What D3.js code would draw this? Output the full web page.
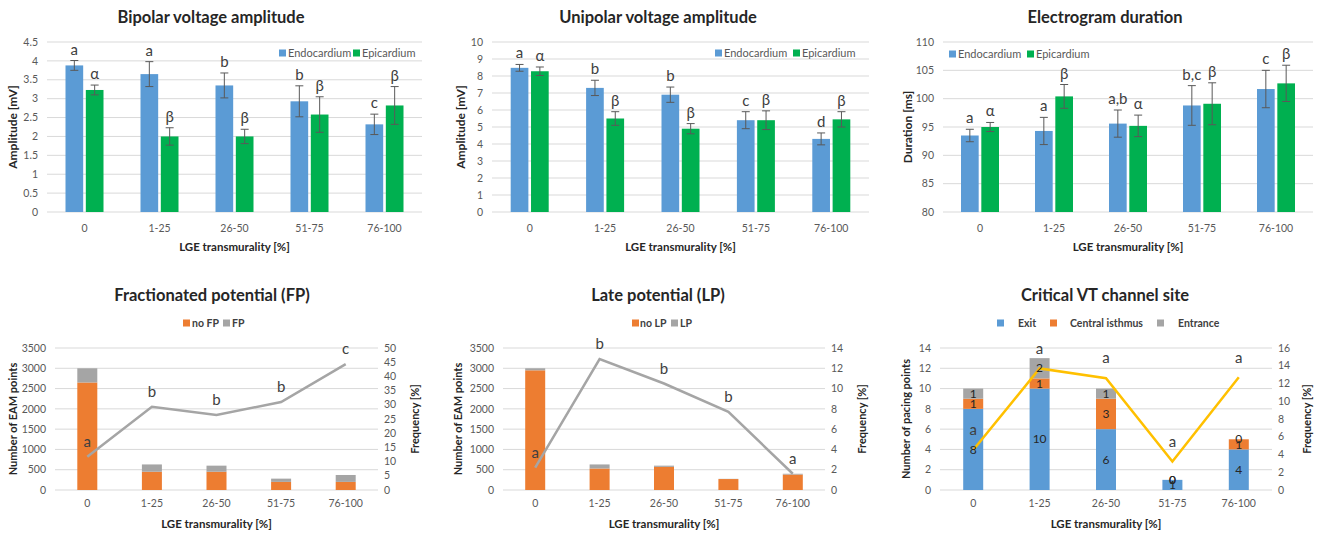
<!DOCTYPE html>
<html><head><meta charset="utf-8">
<script src="https://cdn.jsdelivr.net/npm/d3@7/dist/d3.min.js"></script>
<style>
body{margin:0;background:#fff;}
svg{display:block;font-family:Lato,"Open Sans",sans-serif;}
</style></head>
<body><svg id="c" width="1322" height="534"></svg>
<script>
// ---------- data ----------
const categories = ["0","1-25","26-50","51-75","76-100"];
const seriesNames = ["Endocardium","Epicardium"];

const bipolarEndo    = [3.88, 3.65, 3.35, 2.93, 2.32];
const bipolarEndoErr = [0.13, 0.33, 0.33, 0.41, 0.27];
const bipolarEpi     = [3.23, 2.00, 2.00, 2.58, 2.82];
const bipolarEpiErr  = [0.13, 0.23, 0.19, 0.47, 0.50];
const bipolarEndoLetters = ["a","a","b","b","c"];
const bipolarEpiLetters  = ["α","β","β","β","β"];
const bipolarTicks = [0,0.5,1,1.5,2,2.5,3,3.5,4,4.5];

const unipolarEndo    = [8.48, 7.30, 6.90, 5.40, 4.30];
const unipolarEndoErr = [0.20, 0.45, 0.45, 0.50, 0.35];
const unipolarEpi     = [8.28, 5.50, 4.90, 5.40, 5.45];
const unipolarEpiErr  = [0.25, 0.40, 0.30, 0.55, 0.45];
const unipolarEndoLetters = ["a","b","b","c","d"];
const unipolarEpiLetters  = ["α","β","β","β","β"];
const unipolarTicks = [0,1,2,3,4,5,6,7,8,9,10];

const durationEndo    = [93.5, 94.3, 95.6, 98.8, 101.7];
const durationEndoErr = [1.1, 2.4, 2.4, 3.5, 3.3];
const durationEpi     = [95.0, 100.4, 95.2, 99.1, 102.7];
const durationEpiErr  = [0.8, 2.1, 1.9, 3.7, 3.2];
const durationEndoLetters = ["a","a","a,b","b,c","c"];
const durationEpiLetters  = ["α","β","α","β","β"];
const durationTicks = [80,85,90,95,100,105,110];

const noFP = [2650, 450, 450, 200, 200];
const FP   = [350, 180, 150, 80, 170];
const fpFreq = [11.7, 29.3, 26.4, 31.0, 44.3];
const fpLetters = ["a","b","b","b","c"];
const fpLeftTicks = [0,500,1000,1500,2000,2500,3000,3500];
const fpRightTicks = [0,5,10,15,20,25,30,35,40,45,50];

const noLP = [2950, 530, 570, 270, 380];
const LP   = [50, 100, 30, 5, 20];
const lpFreq = [2.2, 12.9, 10.5, 7.7, 1.6];
const lpLetters = ["a","b","b","b","a"];
const lpLeftTicks = [0,500,1000,1500,2000,2500,3000,3500];
const lpRightTicks = [0,2,4,6,8,10,12,14];

const vtExit = [8, 10, 6, 1, 4];
const vtCentral = [1, 1, 3, 0, 1];
const vtEntrance = [1, 2, 1, 0, 0];
const vtFreq = [4.5, 13.7, 12.6, 3.2, 12.7];
const vtLetters = ["a","a","a","a","a"];
const vtLeftTicks = [0,2,4,6,8,10,12,14];
const vtRightTicks = [0,2,4,6,8,10,12,14,16];

// ---------- styles ----------
const BLUE="#5B9BD5", GREEN="#00B050", ORANGE="#ED7D31", GRAY="#A5A5A5", YELLOW="#FFC000";
const GRID="#D9D9D9", TICK="#595959", TXT="#262626";
const svg = d3.select("#c");

function gridLines(g, y, ticks, x0, x1){
  g.selectAll(null).data(ticks).enter().append("line")
    .attr("x1",x0).attr("x2",x1).attr("y1",d=>y(d)).attr("y2",d=>y(d))
    .attr("stroke",GRID).attr("stroke-width",1);
}
function tickLabels(g, y, ticks, x, anchor){
  g.selectAll(null).data(ticks).enter().append("text")
    .attr("x",x).attr("y",d=>y(d)).attr("dy","0.35em")
    .attr("text-anchor",anchor).attr("font-size",10.5).attr("fill",TICK)
    .text(d=>d);
}
function rotTitle(g, text, x, y, size){
  g.append("text").attr("transform",`translate(${x},${y}) rotate(-90)`)
    .attr("text-anchor","middle").attr("dy","0.35em")
    .attr("font-size",size).attr("font-weight","bold").attr("fill",TXT).text(text);
}

// ---------- top grouped bar panels ----------
function topPanel(c){
  const g = svg.append("g");
  const x = d3.scaleBand().domain(categories).range([c.left,c.right]);
  const y = d3.scaleLinear().domain(c.domain).range([212,42]);
  const xs = d3.scaleBand().domain(seriesNames).range([-19,19]).paddingInner(0.13);
  gridLines(g,y,c.ticks,c.left,c.right);
  tickLabels(g,y,c.ticks,c.left-9,"end");
  const series = [
    {name:"Endocardium", v:c.endo, e:c.endoErr, l:c.endoLet, col:BLUE},
    {name:"Epicardium", v:c.epi, e:c.epiErr, l:c.epiLet, col:GREEN}];
  series.forEach(s=>{
    const cx = (i)=>x(categories[i])+x.bandwidth()/2+xs(s.name);
    const idx = d3.range(categories.length);
    g.selectAll(null).data(idx).enter().append("rect")
      .attr("x",i=>cx(i)).attr("width",xs.bandwidth())
      .attr("y",i=>y(s.v[i])).attr("height",i=>y(c.domain[0])-y(s.v[i]))
      .attr("fill",s.col);
    const mid = i=>cx(i)+xs.bandwidth()/2;
    g.selectAll(null).data(idx).enter().append("line")
      .attr("x1",mid).attr("x2",mid).attr("y1",i=>y(s.v[i]-s.e[i])).attr("y2",i=>y(s.v[i]+s.e[i]))
      .attr("stroke","#595959").attr("stroke-width",1);
    [-1,1].forEach(sg=>{
      g.selectAll(null).data(idx).enter().append("line")
        .attr("x1",i=>mid(i)-4).attr("x2",i=>mid(i)+4)
        .attr("y1",i=>y(s.v[i]+sg*s.e[i])).attr("y2",i=>y(s.v[i]+sg*s.e[i]))
        .attr("stroke","#595959").attr("stroke-width",1);
    });
    g.selectAll(null).data(idx).enter().append("text")
      .attr("x",mid).attr("y",i=>y(s.v[i]+s.e[i])-6)
      .attr("text-anchor","middle").attr("font-size",15).attr("fill","#404040")
      .text(i=>s.l[i]);
  });
  g.selectAll(null).data(categories).enter().append("text")
    .attr("x",d=>x(d)+x.bandwidth()/2).attr("y",228).attr("dy","0.35em")
    .attr("text-anchor","middle").attr("font-size",10.5).attr("fill",TICK).text(d=>d);
  g.append("text").attr("x",(c.left+c.right)/2).attr("y",247).attr("dy","0.35em")
    .attr("text-anchor","middle").attr("font-size",11.5).attr("font-weight","bold").attr("fill",TXT)
    .text("LGE transmurality [%]");
  g.append("text").attr("x",c.titleX).attr("y",17).attr("dy","0.35em")
    .attr("text-anchor","middle").attr("font-size",16.5).attr("font-weight","bold").attr("fill",TXT)
    .text(c.title);
  rotTitle(g,c.yTitle,c.yTitleX,127,12);
  c.legend.forEach((lx,k)=>{
    g.append("rect").attr("x",lx).attr("y",c.legendY-3.5).attr("width",7).attr("height",7).attr("fill",series[k].col);
    g.append("text").attr("x",lx+9).attr("y",c.legendY).attr("dy","0.35em")
      .attr("font-size",11).attr("fill",TICK).text(series[k].name);
  });
}

topPanel({left:47,right:422,domain:[0,4.5],ticks:bipolarTicks,title:"Bipolar voltage amplitude",titleX:211,
  yTitle:"Amplitude [mV]",yTitleX:13,endo:bipolarEndo,endoErr:bipolarEndoErr,epi:bipolarEpi,epiErr:bipolarEpiErr,
  endoLet:bipolarEndoLetters,epiLet:bipolarEpiLetters,legend:[279,353],legendY:53});
topPanel({left:492,right:869,domain:[0,10],ticks:unipolarTicks,title:"Unipolar voltage amplitude",titleX:658,
  yTitle:"Amplitude [mV]",yTitleX:461,endo:unipolarEndo,endoErr:unipolarEndoErr,epi:unipolarEpi,epiErr:unipolarEpiErr,
  endoLet:unipolarEndoLetters,epiLet:unipolarEpiLetters,legend:[715,793],legendY:53});
topPanel({left:943,right:1313,domain:[80,110],ticks:durationTicks,title:"Electrogram duration",titleX:1105,
  yTitle:"Duration [ms]",yTitleX:908,endo:durationEndo,endoErr:durationEndoErr,epi:durationEpi,epiErr:durationEpiErr,
  endoLet:durationEndoLetters,epiLet:durationEpiLetters,legend:[949,1027],legendY:54});

// ---------- bottom combo panels ----------
function bottomPanel(c){
  const g = svg.append("g");
  const top=348, bot=490;
  const x = d3.scaleBand().domain(categories).range([c.left,c.right]);
  const yL = d3.scaleLinear().domain([0,d3.max(c.leftTicks)]).range([bot,top]);
  const yR = d3.scaleLinear().domain([0,d3.max(c.rightTicks)]).range([bot,top]);
  gridLines(g,yL,c.leftTicks,c.left,c.right);
  tickLabels(g,yL,c.leftTicks,c.left-9,"end");
  tickLabels(g,yR,c.rightTicks,c.right+6,"start");
  const idx = d3.range(categories.length);
  const cx = i=>x(categories[i])+x.bandwidth()/2;
  const bw = 20;
  const stack = d3.stack().keys(d3.range(c.stacks.length))
    .value((i,k)=>c.stacks[k][i])(idx);
  stack.forEach((layer,k)=>{
    g.selectAll(null).data(layer).enter().append("rect")
      .attr("x",(d,i)=>cx(i)-bw/2).attr("width",bw)
      .attr("y",d=>yL(d[1])).attr("height",d=>yL(d[0])-yL(d[1]))
      .attr("fill",c.colors[k]);
  });
  const line = d3.line().x((d,i)=>cx(i)).y(d=>yR(d));
  g.append("path").datum(c.freq).attr("d",line).attr("fill","none")
    .attr("stroke",c.lineColor).attr("stroke-width",2.5).attr("stroke-linejoin","miter");
  if(c.segLabels){
    stack.forEach((layer,k)=>{
      g.selectAll(null).data(layer).enter().append("text")
        .attr("x",(d,i)=>cx(i)).attr("y",d=>yL((d[0]+d[1])/2)).attr("dy","0.35em")
        .attr("text-anchor","middle").attr("font-size",12).attr("fill",TXT)
        .text((d,i)=>c.stacks[k][i]);
    });
  }
  g.selectAll(null).data(c.freq).enter().append("text")
    .attr("x",(d,i)=>cx(i)).attr("y",d=>yR(d)-c.letterOff).attr("dy","0.35em")
    .attr("text-anchor","middle").attr("font-size",15).attr("fill","#404040")
    .text((d,i)=>c.letters[i]);
  g.selectAll(null).data(categories).enter().append("text")
    .attr("x",d=>x(d)+x.bandwidth()/2).attr("y",503).attr("dy","0.35em")
    .attr("text-anchor","middle").attr("font-size",10.5).attr("fill",TICK).text(d=>d);
  g.append("text").attr("x",(c.left+c.right)/2).attr("y",524).attr("dy","0.35em")
    .attr("text-anchor","middle").attr("font-size",11.5).attr("font-weight","bold").attr("fill",TXT)
    .text("LGE transmurality [%]");
  g.append("text").attr("x",c.titleX).attr("y",295).attr("dy","0.35em")
    .attr("text-anchor","middle").attr("font-size",16.5).attr("font-weight","bold").attr("fill",TXT)
    .text(c.title);
  rotTitle(g,c.yTitle,c.yTitleX,419,11);
  rotTitle(g,"Frequency [%]",c.rTitleX,419,11);
  c.legendNames.forEach((nm,k)=>{
    g.append("rect").attr("x",c.legendX[k]).attr("y",323-3.5).attr("width",7).attr("height",7).attr("fill",c.colors[k]);
    g.append("text").attr("x",c.legendTX[k]).attr("y",323).attr("dy","0.35em")
      .attr("font-size",10.5).attr("font-weight","bold").attr("fill","#404040").text(nm);
  });
}

bottomPanel({left:55,right:378,leftTicks:fpLeftTicks,rightTicks:fpRightTicks,stacks:[noFP,FP],colors:[ORANGE,GRAY],
  freq:fpFreq,letters:fpLetters,lineColor:GRAY,letterOff:15,title:"Fractionated potential (FP)",titleX:212,
  yTitle:"Number of EAM points",yTitleX:13,rTitleX:415,legendNames:["no FP","FP"],legendX:[183,223],legendTX:[192,232]});
bottomPanel({left:503,right:825,leftTicks:lpLeftTicks,rightTicks:lpRightTicks,stacks:[noLP,LP],colors:[ORANGE,GRAY],
  freq:lpFreq,letters:lpLetters,lineColor:GRAY,letterOff:15,title:"Late potential (LP)",titleX:658,
  yTitle:"Number of EAM points",yTitleX:458,rTitleX:862,legendNames:["no LP","LP"],legendX:[632,671],legendTX:[640,680]});
bottomPanel({left:940,right:1272,leftTicks:vtLeftTicks,rightTicks:vtRightTicks,stacks:[vtExit,vtCentral,vtEntrance],
  colors:[BLUE,ORANGE,GRAY],segLabels:true,
  freq:vtFreq,letters:vtLetters,lineColor:YELLOW,letterOff:20,title:"Critical VT channel site",titleX:1105,
  yTitle:"Number of pacing points",yTitleX:906,rTitleX:1307,legendNames:["Exit","Central isthmus","Entrance"],
  legendX:[997,1050,1157],legendTX:[1018,1070,1178]});
</script></body></html>
